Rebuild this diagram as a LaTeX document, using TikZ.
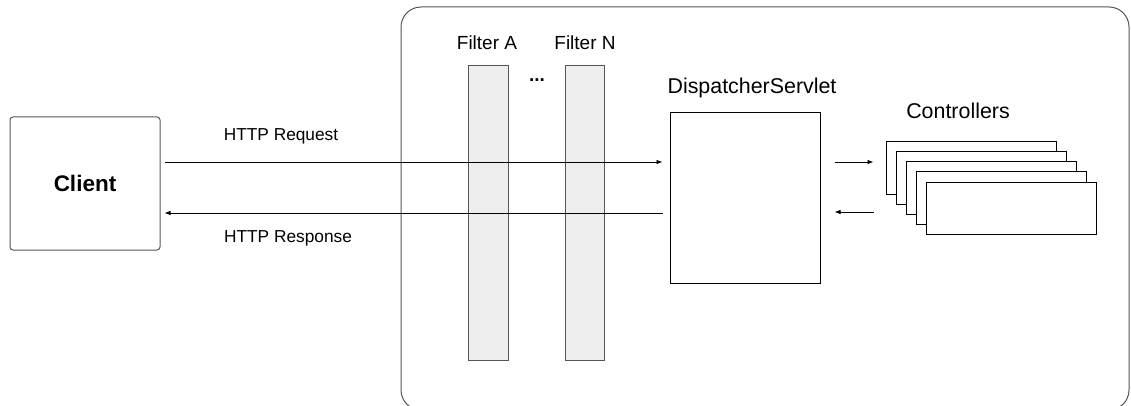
\documentclass[tikz,border=0pt]{standalone}
\usepackage{fontspec}
\setmainfont{Liberation Sans}
\usetikzlibrary{arrows.meta}

\definecolor{edgegray}{HTML}{555555}
\definecolor{filtergray}{HTML}{EEEEEE}

\tikzset{
    box/.style={draw=black, line width=1pt, fill=white, inner sep=0pt},
    filterbox/.style={draw=edgegray, line width=1pt, fill=filtergray, inner sep=0pt,
        minimum width=40pt, minimum height=294pt},
    msg/.style={line width=0.8pt, -{Latex[length=6pt, width=4.5pt]}},
    lbl/.style={font=\fontsize{17.3}{20}\selectfont},
}

\begin{document}
\begin{tikzpicture}[x=1pt, y=-1pt]

    \useasboundingbox (0,0) rectangle (1131,406);
    \clip (0,0) rectangle (1131,406);

    % container
    \draw[edgegray, line width=1pt, rounded corners=20pt] (401,7) rectangle (1129,410);

    \draw(85,183.5) node[box, draw=edgegray, rounded corners=3pt, minimum width=150pt, minimum height=133pt] (client)
        {\fontsize{22.5}{26}\selectfont\bfseries Client};

    \draw(488,213) node[filterbox] (fa) {};
    \draw(584.5,213) node[filterbox, minimum width=39pt] (fn) {};
    \draw(487,43) node[font=\fontsize{19}{22}\selectfont] (la) {Filter A};
    \draw(585,43) node[font=\fontsize{19}{22}\selectfont] (ln) {Filter N};
    \draw(537,80) node[font=\fontsize{19}{22}\selectfont\bfseries] (dots) {...};

    \draw(745,198) node[box, minimum width=150pt, minimum height=170pt] (disp) {};
    \draw(752,88) node[font=\fontsize{21.4}{25}\selectfont] (ldisp) {DispatcherServlet};

    \foreach \i in {0,...,4}
        \draw(971+10*\i,168+10*\i) node[box, minimum width=170pt, minimum height=52pt] (c\i) {};
    \draw(958,111) node[font=\fontsize{21.4}{25}\selectfont] (lc) {Controllers};

    \draw[msg, shorten <=4pt, shorten >=7pt] (client.east |- 0,162) -- (disp.west |- 0,162)
        node[midway, lbl, above=14pt, xshift=-134pt] (req) {HTTP Request};
    \draw[msg, shorten <=7pt, shorten >=4pt] (disp.west |- 0,213) -- (client.east |- 0,213)
        node[midway, lbl, below=14pt, xshift=-127pt] (resp) {HTTP Response};

    \draw[msg, shorten <=14pt, shorten >=12pt] (disp.east |- 0,162) -- (c0.west |- 0,162);
    \draw[msg, shorten <=12pt, shorten >=14pt] (c0.west |- 0,212) -- (disp.east |- 0,212);

\end{tikzpicture}
\end{document}
